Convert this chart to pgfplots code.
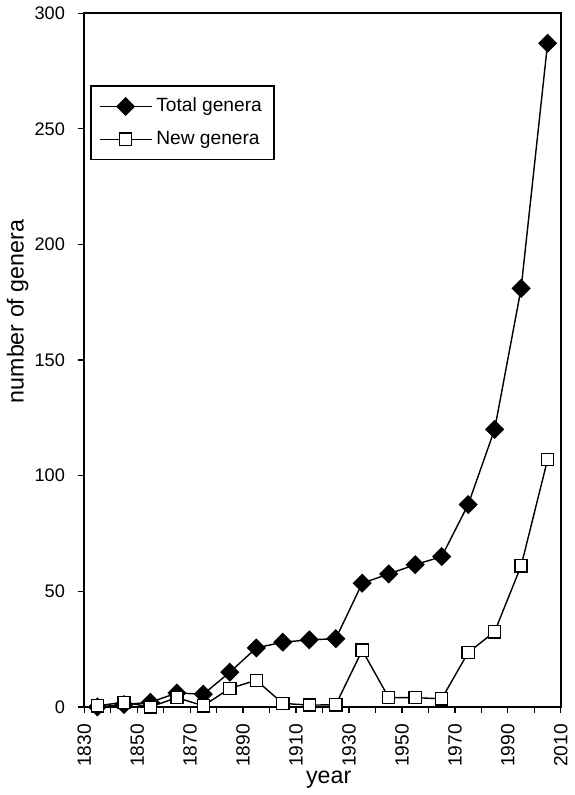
\documentclass[border=0pt]{standalone}
\usepackage{fontspec}
\setmainfont{Liberation Sans}
\usepackage{pgfplots}
\pgfplotsset{compat=1.18}

\pgfplotstableread{
year total new
1835 0     0.5
1845 1     2
1855 2     0
1865 6     4
1875 5.5   0.5
1885 15    8
1895 25.5  11.5
1905 28    1.5
1915 29    0.8
1925 29.5  0.9
1935 53.5  24.5
1945 57.5  4
1955 61.5  4
1965 65    3.5
1975 87.5  23.5
1985 120   32.5
1995 181   61
2005 287   107
}\genera

\begin{document}
\begin{tikzpicture}
\begin{axis}[
    scale only axis,
    width=236pt, height=343.5pt,
    xmin=1830, xmax=2010,
    ymin=0, ymax=300,
    clip=false,
    axis line style={line width=0.7pt},
    tick style={line width=0.6pt, black},
    tick align=outside,
    major tick length=3pt,
    xtick pos=bottom, ytick pos=left,
    xtick={1830,1840,...,2010},
    xticklabels={1830,,1850,,1870,,1890,,1910,,1930,,1950,,1970,,1990,,2010},
    ytick={0,50,...,300},
    /pgf/number format/assume math mode=true,
    /pgf/number format/1000 sep={},
    tick label style={font=\fontsize{9}{10}\selectfont},
    xticklabel style={rotate=90, anchor=east, xshift=-2pt,
        font=\fontsize{9.5}{10}\selectfont},
    yticklabel style={xshift=-3pt},
    xlabel={year},
    ylabel={number of genera},
    label style={font=\fontsize{11.5}{13}\selectfont},
    xlabel style={at={(rel axis cs:0.513,0)}, anchor=center, yshift=-36pt},
    ylabel style={at={(rel axis cs:0,0.57)}, anchor=center, yshift=33pt},
    legend style={at={(rel axis cs:0.013,0.896)}, anchor=north west,
        draw=black, line width=0.6pt, font=\fontsize{9.5}{11}\selectfont,
        row sep=4pt, inner xsep=4pt, inner ysep=4pt},
    legend cell align=left,
    legend image code/.code={
        \draw[mark repeat=2, mark phase=2, #1]
            plot coordinates {(0cm,0cm) (0.45cm,0cm) (0.9cm,0cm)};
    },
]
\addplot[black, line width=0.7pt, mark=square*, mark size=3pt,
    mark options={rotate=45, fill=black}] table[x=year, y=total] {\genera};
\addlegendentry{Total genera}
\addplot[black, line width=0.7pt, mark=square*, mark size=3pt,
    mark options={fill=white}] table[x=year, y=new] {\genera};
\addlegendentry{New genera}
\end{axis}
\end{tikzpicture}
\end{document}
